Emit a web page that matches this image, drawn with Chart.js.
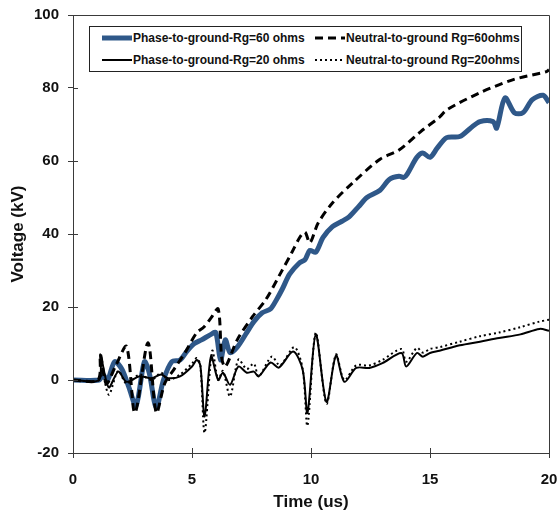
<!DOCTYPE html>
<html>
<head>
<meta charset="utf-8">
<script src="https://cdn.jsdelivr.net/npm/chart.js@4.4.1/dist/chart.umd.min.js"></script>
<style>
  body { margin: 0; background: #fff; }
  #wrap { position: relative; width: 559px; height: 514px; }
  #legend {
    position: absolute; left: 89px; top: 26px; width: 433px; height: 46px;
    border: 1px solid #222; background: #fff; box-sizing: border-box;
    display: grid; grid-template-columns: 213px 1fr; grid-template-rows: 22px 22px;
    padding-left: 12px;
    font: bold 12px Arial, 'Liberation Sans', sans-serif; color: #111;
  }
  #legend .item { display: flex; align-items: center; white-space: nowrap; }
  #legend svg { margin-right: 1px; flex: none; }
</style>
</head>
<body>
<div id="wrap">
  <canvas id="chart" width="559" height="514"></canvas>
  <div id="legend"></div>
</div>
<script>
// Phase-to-ground, Rg = 60 ohms
const p60Time = [0, 1.1, 1.25, 1.45, 1.75, 2.05, 2.35, 2.65, 3.0, 3.2, 3.5, 3.8, 4.15, 4.5, 4.8, 5.1, 5.4, 5.8, 6.0, 6.2, 6.4, 6.6, 6.9, 7.3, 7.6, 7.95, 8.3, 8.55, 8.8, 9.1, 9.5, 9.75, 9.95, 10.2, 10.5, 10.9, 11.3, 11.6, 12.0, 12.35, 12.9, 13.3, 13.7, 13.9, 14.05, 14.45, 14.7, 15.0, 15.3, 15.7, 16.25, 16.7, 17.1, 17.65, 17.8, 18.15, 18.55, 18.9, 19.3, 19.75, 20.0];
const p60Volt = [0, 0, 1.5, 0, 5, 3, -2, -7, 5, 2, -7.5, 0, 5, 5.5, 8, 10, 11, 12.5, 13, 5.5, 11, 7.5, 9, 13, 16, 18.4, 19.5, 22, 25, 29, 32, 33, 35.5, 35, 39, 42, 43.5, 44.7, 47.5, 50, 52, 55, 55.8, 55.5, 56.5, 61, 62.2, 61, 63.5, 66.4, 66.7, 69, 70.8, 70.8, 69, 77.3, 73.2, 73.2, 76.8, 78, 76];

// Neutral-to-ground, Rg = 60 ohms
const n60Time = [0, 1.05, 1.15, 1.4, 1.8, 2.25, 2.6, 3.15, 3.5, 3.85, 4.25, 4.7, 5.2, 5.5, 5.8, 6.1, 6.25, 6.4, 6.9, 7.55, 8.1, 8.7, 9.2, 9.55, 9.75, 9.95, 10.3, 10.9, 11.75, 12.9, 13.7, 14.6, 15.4, 15.7, 17.1, 18.5, 19.9, 20.0];
const n60Volt = [0, 0, 7, -1, 4, 9.2, -9, 10.2, -9, -1, 3, 7.4, 13, 14.5, 17, 19.5, 6, 3.6, 11, 17.4, 22, 29, 35, 39.3, 40.5, 37.6, 43, 48.5, 54, 60.5, 63, 68, 72, 74, 78.7, 82.3, 84.5, 85];

// Phase-to-ground, Rg = 20 ohms
const p20Time = [0, 1.1, 1.15, 1.5, 1.9, 2.25, 2.8, 3.3, 3.7, 4.0, 4.5, 5.0, 5.2, 5.35, 5.53, 5.8, 6.1, 6.3, 6.6, 6.95, 7.3, 7.6, 7.8, 8.3, 8.65, 9.25, 9.65, 9.85, 10.2, 10.65, 11.05, 11.4, 11.9, 12.45, 13.0, 13.8, 14.0, 14.45, 14.7, 15.0, 15.4, 16.25, 17.1, 17.9, 18.8, 19.6, 20.0];
const p20Volt = [0, 0, 7, -2, 2.3, -0.5, 1, 0.5, 1.5, 0.5, 1, 3.7, 5.5, 4, -10, 6.5, 0, 2, -1.3, 3.7, 2, 2.3, 1, 4.8, 3.4, 7.8, 2.8, -9, 12.5, -6, 6.7, -0.5, 3.3, 3.3, 4.6, 7.4, 3.7, 7.4, 6.4, 7.4, 8, 9.5, 10.5, 11.5, 12.5, 14, 13.5];

// Neutral-to-ground, Rg = 20 ohms
const n20Time = [0, 1.1, 1.15, 1.5, 1.9, 2.25, 2.8, 3.3, 3.7, 4.0, 4.5, 5.0, 5.2, 5.35, 5.53, 5.85, 6.1, 6.3, 6.6, 6.95, 7.3, 7.6, 7.8, 8.35, 8.7, 9.3, 9.65, 9.85, 10.2, 10.65, 11.05, 11.4, 11.9, 12.45, 13.0, 13.8, 14.0, 14.45, 14.7, 15.0, 15.4, 16.25, 17.1, 17.9, 18.8, 19.6, 20.0];
const n20Volt = [0, 0, 6, -4, 2.5, -1, 1.5, 0, 2, 0, 1.5, 4.5, 6, 4, -14.5, 8, 0, 2.5, -4.5, 5.6, 3, 4.5, 1, 6.4, 4, 9, 3, -12.5, 13, -6.5, 7, 0, 4, 4, 5.5, 8.5, 5, 8.8, 7.5, 8.5, 9, 10.5, 12, 13, 14.5, 16, 16.5];

const xTicks = [0, 5, 10, 15, 20];
const yTicks = [-20, 0, 20, 40, 60, 80, 100];

const AXIS = '#3a3a3a';
const FONT = "Arial, 'Liberation Sans', sans-serif";

const pts = (xs, ys) => xs.map((x, i) => ({ x, y: ys[i] }));

// box round the plot and the inner half of each tick mark
const frame = {
  id: 'frame',
  afterDraw(chart) {
    const { ctx, chartArea: a, scales: { x, y } } = chart;
    ctx.save();
    ctx.strokeStyle = AXIS;
    ctx.lineWidth = 1;
    ctx.beginPath();
    ctx.rect(Math.round(a.left) + 0.5, Math.round(a.top) + 0.5, Math.round(a.right - a.left), Math.round(a.bottom - a.top));
    xTicks.forEach(v => {
      const px = Math.round(x.getPixelForValue(v)) + 0.5;
      ctx.moveTo(px, a.bottom);
      ctx.lineTo(px, a.bottom - 5);
    });
    yTicks.forEach(v => {
      const py = Math.round(y.getPixelForValue(v)) + 0.5;
      ctx.moveTo(a.left, py);
      ctx.lineTo(a.left + 5, py);
    });
    ctx.stroke();
    ctx.restore();
  }
};

const chart = new Chart(document.getElementById('chart'), {
  type: 'line',
  data: {
    datasets: [
      { label: 'Phase-to-ground-Rg=60 ohms', data: pts(p60Time, p60Volt), borderColor: '#2f5889', borderWidth: 5, order: 4 },
      { label: 'Neutral-to-ground Rg=60ohms', data: pts(n60Time, n60Volt), borderColor: '#000', borderWidth: 3, borderDash: [8, 5], order: 3 },
      { label: 'Phase-to-ground-Rg=20 ohms', data: pts(p20Time, p20Volt), borderColor: '#000', borderWidth: 2, order: 2 },
      { label: 'Neutral-to-ground Rg=20ohms', data: pts(n20Time, n20Volt), borderColor: '#000', borderWidth: 2, borderDash: [2, 3], order: 1 }
    ]
  },
  options: {
    responsive: false,
    animation: false,
    elements: { point: { radius: 0 }, line: { tension: 0.3, borderCapStyle: 'butt', borderJoinStyle: 'round' } },
    layout: { padding: { top: 15, right: 10, left: 0, bottom: 0 } },
    plugins: { legend: { display: false }, tooltip: { enabled: false } },
    scales: {
      x: {
        type: 'linear', min: 0, max: 20,
        afterFit: s => { s.height = 61; s.paddingLeft = 0; s.paddingRight = 0; },
        afterBuildTicks: s => { s.ticks = xTicks.map(v => ({ value: v })); },
        grid: { drawOnChartArea: false, tickLength: 5, color: AXIS },
        border: { color: AXIS },
        ticks: { padding: 13, color: '#111', font: { family: FONT, size: 15, weight: 'bold' } },
        title: { display: true, text: 'Time (us)', color: '#111', padding: { top: 0, bottom: 1 }, font: { family: FONT, size: 17, weight: 'bold' } }
      },
      y: {
        min: -20, max: 100,
        afterFit: s => { s.width = 73; s.paddingTop = 0; s.paddingBottom = 0; },
        afterBuildTicks: s => { s.ticks = yTicks.map(v => ({ value: v })); },
        grid: { drawOnChartArea: false, tickLength: 5, color: AXIS },
        border: { color: AXIS },
        ticks: { padding: 9, color: '#111', font: { family: FONT, size: 15, weight: 'bold' } },
        title: { display: true, text: 'Voltage (kV)', color: '#111', padding: { top: 8, bottom: 0 }, font: { family: FONT, size: 17, weight: 'bold' } }
      }
    }
  },
  plugins: [frame]
});

// legend inside the plot, built from the datasets
const legendBox = document.getElementById('legend');
chart.data.datasets.forEach(ds => {
  const item = document.createElement('div');
  item.className = 'item';
  const dash = (ds.borderDash || []).join(' ');
  item.innerHTML = `<svg width="30" height="10"><line x1="0" y1="5" x2="30" y2="5" stroke="${ds.borderColor}" stroke-width="${ds.borderWidth}" stroke-dasharray="${dash}"/></svg><span>${ds.label}</span>`;
  legendBox.appendChild(item);
});
</script>
</body>
</html>
